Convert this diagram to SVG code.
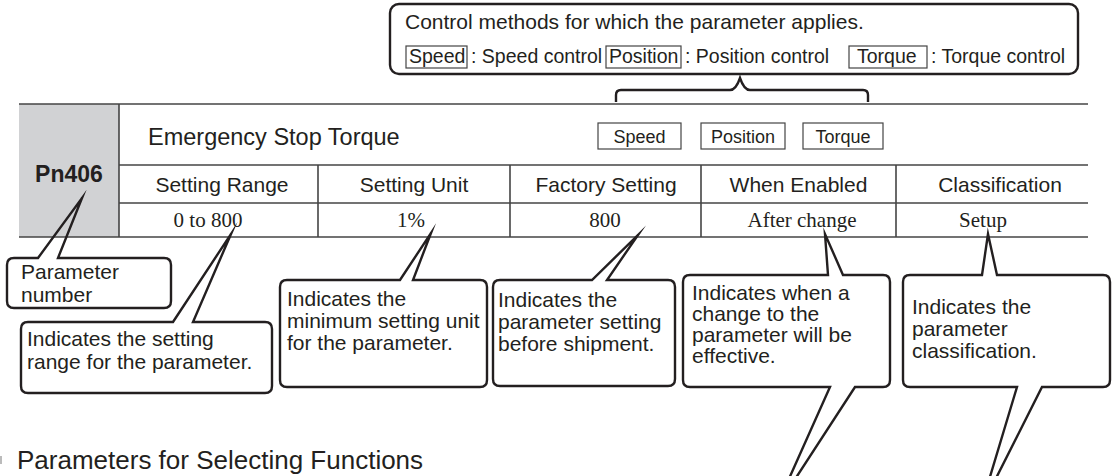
<svg xmlns="http://www.w3.org/2000/svg" width="1112" height="476" viewBox="0 0 1112 476">
<style>
.s{font-family:"Liberation Sans",Arial,sans-serif;fill:#231f20}
.t{font-family:"Liberation Serif","Times New Roman",serif;fill:#231f20;font-size:21px}
.h{font-size:21px;text-anchor:middle}
.c{font-size:21px}
.cl{fill:none;stroke:#231f20;stroke-width:2.4;stroke-linejoin:miter;stroke-miterlimit:20}
.tl{stroke:#444;stroke-width:1.6;fill:none}
.bx{fill:#fff;stroke:#444;stroke-width:1.2}
</style>
<rect width="1112" height="476" fill="#fff"/>

<g id="control-methods">
<rect x="390" y="4" width="688" height="70" rx="9" class="cl"/>
<text class="s" x="405" y="29" font-size="21">Control methods for which the parameter applies.</text>
<rect x="406" y="46" width="61" height="22" class="bx"/>
<text class="s" x="409" y="63" font-size="19.5">Speed</text>
<text class="s" x="471" y="63" font-size="19.5">: Speed control</text>
<rect x="606" y="46" width="75" height="22" class="bx"/>
<text class="s" x="609" y="63" font-size="19.5">Position</text>
<text class="s" x="685" y="63" font-size="19.5">: Position control</text>
<rect x="849" y="46" width="78" height="22" class="bx"/>
<text class="s" x="857" y="63" font-size="19.5">Torque</text>
<text class="s" x="931" y="63" font-size="19.5">: Torque control</text>
</g>

<g id="connectors">
<path d="M616,102 L616,95 Q616,90 621,90 L730,90 Q736,90 740,78 Q744,90 750,90 L863,90 Q868,90 868,95 L868,102" fill="none" stroke="#231f20" stroke-width="2.4"/>
</g>

<g id="param-table">
<rect x="19" y="104" width="100" height="133" fill="#d1d2d4"/>
<line x1="19" y1="104" x2="1088" y2="104" class="tl"/>
<line x1="119" y1="165" x2="1088" y2="165" class="tl"/>
<line x1="119" y1="203" x2="1088" y2="203" class="tl"/>
<line x1="19" y1="237" x2="1088" y2="237" class="tl"/>
<line x1="119" y1="104" x2="119" y2="237" class="tl"/>
<line x1="318" y1="165" x2="318" y2="237" class="tl"/>
<line x1="510" y1="165" x2="510" y2="237" class="tl"/>
<line x1="701" y1="165" x2="701" y2="237" class="tl"/>
<line x1="896" y1="165" x2="896" y2="237" class="tl"/>
<text class="s" x="69" y="182" font-size="23" font-weight="bold" text-anchor="middle">Pn406</text>
<text class="s" x="148" y="145" font-size="23.5">Emergency Stop Torque</text>
<rect x="598" y="123" width="83" height="26" class="bx"/>
<text class="s" x="639.5" y="143" font-size="18" text-anchor="middle">Speed</text>
<rect x="701" y="123" width="84" height="26" class="bx"/>
<text class="s" x="743" y="143" font-size="18" text-anchor="middle">Position</text>
<rect x="803" y="123" width="80" height="26" class="bx"/>
<text class="s" x="843" y="143" font-size="18" text-anchor="middle">Torque</text>
<text class="s h" x="222" y="192">Setting Range</text>
<text class="s h" x="414" y="192">Setting Unit</text>
<text class="s h" x="606" y="192">Factory Setting</text>
<text class="s h" x="798.5" y="192">When Enabled</text>
<text class="s h" x="1000" y="192">Classification</text>
<text class="t" x="208" y="227" text-anchor="middle">0 to 800</text>
<text class="t" x="411" y="227" text-anchor="middle">1%</text>
<text class="t" x="605" y="227" text-anchor="middle">800</text>
<text class="t" x="802" y="227" text-anchor="middle">After change</text>
<text class="t" x="983" y="227" text-anchor="middle">Setup</text>
</g>

<g id="callout-parameter-number">
<path class="cl" d="M14,258 L38,258 L82,198 L58,258 L164,258 Q171,258 171,265 L171,301 Q171,308 164,308 L14,308 Q7,308 7,301 L7,265 Q7,258 14,258 Z"/>
<text class="s c" x="21" y="279">Parameter</text>
<text class="s c" x="21" y="302">number</text>
</g>

<g id="callout-setting-range">
<path class="cl" d="M28,322 L173,322 L231,234 L193,322 L265,322 Q272,322 272,329 L272,386 Q272,393 265,393 L28,393 Q21,393 21,386 L21,329 Q21,322 28,322 Z"/>
<text class="s c" x="27" y="346">Indicates the setting</text>
<text class="s c" x="27" y="369">range for the parameter.</text>
</g>

<g id="callout-setting-unit">
<path class="cl" d="M287,280 L400,280 L431,233 L413,280 L480,280 Q487,280 487,287 L487,380 Q487,387 480,387 L287,387 Q280,387 280,380 L280,287 Q280,280 287,280 Z"/>
<text class="s c" x="287" y="306">Indicates the</text>
<text class="s c" x="287" y="328">minimum setting unit</text>
<text class="s c" x="287" y="350">for the parameter.</text>
</g>

<g id="callout-factory-setting">
<path class="cl" d="M500,280 L592,280 L638,235 L607,280 L668,280 Q675,280 675,287 L675,379 Q675,386 668,386 L500,386 Q493,386 493,379 L493,287 Q493,280 500,280 Z"/>
<text class="s c" x="498" y="307">Indicates the</text>
<text class="s c" x="498" y="329">parameter setting</text>
<text class="s c" x="498" y="351">before shipment.</text>
</g>

<g id="callout-when-enabled">
<path class="cl" d="M690,275 L828,275 L825,234 L843,275 L883,275 Q890,275 890,282 L890,380 Q890,387 883,387 L855,387 L775,510 L830,387 L690,387 Q683,387 683,380 L683,282 Q683,275 690,275 Z"/>
<text class="s c" x="692" y="300">Indicates when a</text>
<text class="s c" x="692" y="321">change to the</text>
<text class="s c" x="692" y="342">parameter will be</text>
<text class="s c" x="692" y="363">effective.</text>
</g>

<g id="callout-classification">
<path class="cl" d="M910,275 L982,275 L988,234 L997,275 L1103,275 Q1110,275 1110,282 L1110,380 Q1110,387 1103,387 L1042,387 L980,510 L1017,387 L910,387 Q903,387 903,380 L903,282 Q903,275 910,275 Z"/>
<text class="s c" x="912" y="314">Indicates the</text>
<text class="s c" x="912" y="336">parameter</text>
<text class="s c" x="912" y="358">classification.</text>
</g>

<g id="heading">
<rect x="-6" y="456" width="8" height="8" fill="#bbb"/>
<text class="s" x="17" y="469" font-size="26">Parameters for Selecting Functions</text>
</g>
</svg>
